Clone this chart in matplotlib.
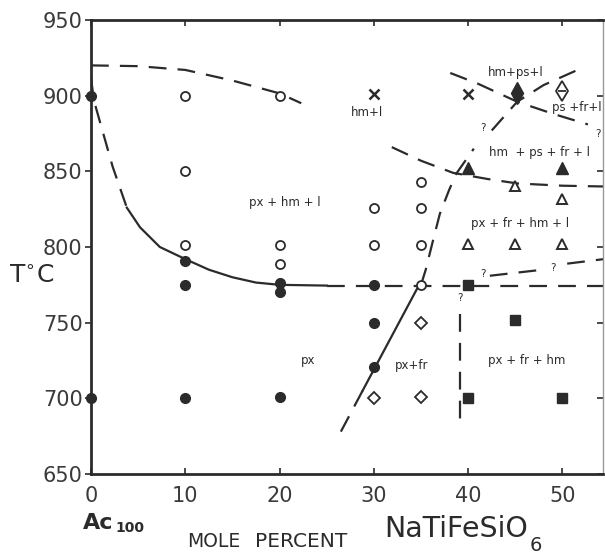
import matplotlib
matplotlib.use("Agg")
import matplotlib.pyplot as plt

INK = "#2b2b2b"

# ---- data ----
x_ticks = [0, 10, 20, 30, 40, 50]
y_ticks = [650, 700, 750, 800, 850, 900, 950]

filled_circle_x = [0, 0, 10, 10, 10, 20, 20, 20, 30, 30, 30]
filled_circle_y = [900, 700, 791, 775, 700, 776, 770, 701, 775, 750, 721]

open_circle_x = [10, 10, 10, 20, 20, 20, 30, 30, 35, 35, 35, 35]
open_circle_y = [900, 850, 801, 900, 801, 789, 826, 801, 843, 826, 801, 775]

cross_x = [30, 40]
cross_y = [901, 901]

filled_diamond_x = [45.2]
filled_diamond_y = [902]
half_diamond_x = [50]
half_diamond_y = [903]
open_diamond_x = [35, 30, 35]
open_diamond_y = [750, 700, 701]

filled_tri_x = [40, 50]
filled_tri_y = [852, 852]
open_tri_x = [45, 50, 40, 45, 50]
open_tri_y = [840, 832, 802, 802, 802]

filled_sq_x = [40, 45, 40, 50]
filled_sq_y = [775, 752, 700, 700]

# boundary curves
top_curve_x = [0, 5, 10, 15, 20, 22.3]
top_curve_y = [920, 919.5, 917, 910, 901.5, 895]

liq_dash_x = [0, 0.3, 1.3, 2.3, 3.8]
liq_dash_y = [912, 897, 875, 853, 826]
liq_solid_x = [3.8, 5.2, 7.3, 10, 12.5, 15, 17.5, 20, 25]
liq_solid_y = [826, 813, 800, 792, 785, 780, 776.5, 775, 774.5]
h775_x = [25, 54.3]
h775_y = [774.5, 774.5]

pxfr_solid_x = [34.8, 28.8]
pxfr_solid_y = [775, 705]
pxfr_dash_x = [28.8, 26.5]
pxfr_dash_y = [705, 678]

vert_x = [39.1, 39.1]
vert_y = [756, 680]

steep_lo_x = [35.0, 35.5, 36.3, 37.0, 38.0, 38.8, 40.6]
steep_lo_y = [775, 785, 805, 822, 838, 849, 865]
steep_hi_x = [42.5, 45.2, 48, 51.6]
steep_hi_y = [877, 896, 907, 917]

hm_curve_x = [31.9, 35, 38.4, 42, 45.2, 50, 54.3]
hm_curve_y = [866, 857, 849, 845, 842, 840.5, 840]

ps_curve_x = [38.1, 41, 45.2, 49, 52.7]
ps_curve_y = [915, 908, 896, 888, 881]

q_lo_a_x = [42.3, 47.9]
q_lo_a_y = [781, 785]
q_lo_b_x = [50.5, 54.4]
q_lo_b_y = [789, 792]

labels = [
    ("hm+ps+l", 45.0, 915, "center"),
    ("ps +fr+l", 48.9, 892, "left"),
    ("hm+l", 29.3, 889, "center"),
    ("hm  + ps + fr + l", 47.6, 862.5, "center"),
    ("px + hm + l", 20.6, 829.5, "center"),
    ("px + fr + hm + l", 45.5, 815.5, "center"),
    ("px", 23.0, 725, "center"),
    ("px+fr", 34.0, 721.5, "center"),
    ("px + fr + hm", 46.2, 725, "center"),
]
qmarks = [(41.6, 878.5), (53.8, 875), (41.6, 782), (49.0, 786), (39.1, 766)]

# ---- figure ----
W, H = 605, 554
fig = plt.figure(figsize=(W / 100, H / 100), dpi=100)
fig.patch.set_facecolor("white")
ax = fig.add_axes([91 / W, 80 / H, (603 - 91) / W, (474 - 20) / H])
ax.set_xlim(0, 54.3)
ax.set_ylim(650, 950)

for s in ax.spines.values():
    s.set_color(INK)
    s.set_linewidth(2.0)
ax.spines["right"].set_linewidth(1.0)
ax.spines["right"].set_color("#999999")

ax.set_xticks(x_ticks)
ax.set_yticks(y_ticks)
ax.tick_params(axis="x", direction="in", length=4, width=1.2, color=INK,
               top=True, bottom=True, labelsize=15, labelcolor="#3a3a3a", pad=9)
ax.tick_params(axis="y", direction="out", length=4, width=1.2, color=INK,
               labelsize=15, labelcolor="#3a3a3a", pad=2)
ax.tick_params(axis="y", which="both", right=True)
for t in ax.yaxis.get_ticklines()[1::2]:
    t.set_marker(0)  # right ticks point inward
    t.set_markersize(4)

dash = dict(color=INK, lw=1.6, dashes=(8, 5), solid_capstyle="butt", dash_capstyle="butt")
solid = dict(color=INK, lw=1.6)

ax.plot(top_curve_x, top_curve_y, **dash)
ax.plot(liq_dash_x, liq_dash_y, **dash)
ax.plot(liq_solid_x, liq_solid_y, **solid)
ax.plot(h775_x, h775_y, **dash)
ax.plot(pxfr_solid_x, pxfr_solid_y, **solid)
ax.plot(pxfr_dash_x, pxfr_dash_y, **dash)
ax.plot(vert_x, vert_y, **dash)
ax.plot(steep_lo_x, steep_lo_y, **dash)
ax.plot(steep_hi_x, steep_hi_y, **dash)
ax.plot(hm_curve_x, hm_curve_y, **dash)
ax.plot(ps_curve_x, ps_curve_y, **dash)
ax.plot(q_lo_a_x, q_lo_a_y, **dash)
ax.plot(q_lo_b_x, q_lo_b_y, **dash)

mk = dict(linestyle="none", clip_on=False, zorder=5)
ax.plot(filled_circle_x, filled_circle_y, marker="o", ms=7, mfc=INK, mec=INK, **mk)
ax.plot(open_circle_x, open_circle_y, marker="o", ms=6.5, mfc="white", mec=INK, mew=1.3, **mk)
ax.plot(cross_x, cross_y, marker="x", ms=6.5, mec=INK, mew=1.8, **mk)
ax.plot(filled_diamond_x, filled_diamond_y, marker="d", ms=11, mfc=INK, mec=INK, **mk)
ax.plot(half_diamond_x, half_diamond_y, marker="d", ms=10, mfc="white", mec=INK, mew=1.3, **mk)
ax.plot(half_diamond_x, half_diamond_y, marker="_", ms=6, mec=INK, mew=1.3, **mk)
ax.plot(open_diamond_x, open_diamond_y, marker="D", ms=6, mfc="white", mec=INK, mew=1.3, **mk)
ax.plot(filled_tri_x, filled_tri_y, marker="^", ms=8, mfc=INK, mec=INK, **mk)
ax.plot(open_tri_x, open_tri_y, marker="^", ms=6.5, mfc="white", mec=INK, mew=1.4, **mk)
ax.plot(filled_sq_x, filled_sq_y, marker="s", ms=6.5, mfc=INK, mec=INK, **mk)

for txt, x, y, ha in labels:
    ax.text(x, y, txt, ha=ha, va="center", fontsize=8.5, color=INK, clip_on=False)
for x, y in qmarks:
    ax.text(x, y, "?", ha="center", va="center", fontsize=7.5, color=INK)

def ft(px, py, s, **kw):
    fig.text(px / W, 1 - py / H, s, color=INK, **kw)

# y-axis label T°C
ft(9, 283, r"T$^{\circ}$C", fontsize=18, ha="left", va="baseline")

# x-axis label pieces
ft(83, 529, "Ac", fontsize=16, fontweight="bold", ha="left", va="baseline")
ft(115, 532, "100", fontsize=10, fontweight="bold", ha="left", va="baseline")
ft(187, 547, "MOLE", fontsize=13.5, ha="left", va="baseline")
ft(255, 547, "PERCENT", fontsize=14.5, ha="left", va="baseline")
ft(384, 537, "NaTiFeSiO", fontsize=20.5, ha="left", va="baseline")
ft(530, 551, "6", fontsize=14, ha="left", va="baseline")

fig.savefig("out.png", dpi=100, facecolor="white")
